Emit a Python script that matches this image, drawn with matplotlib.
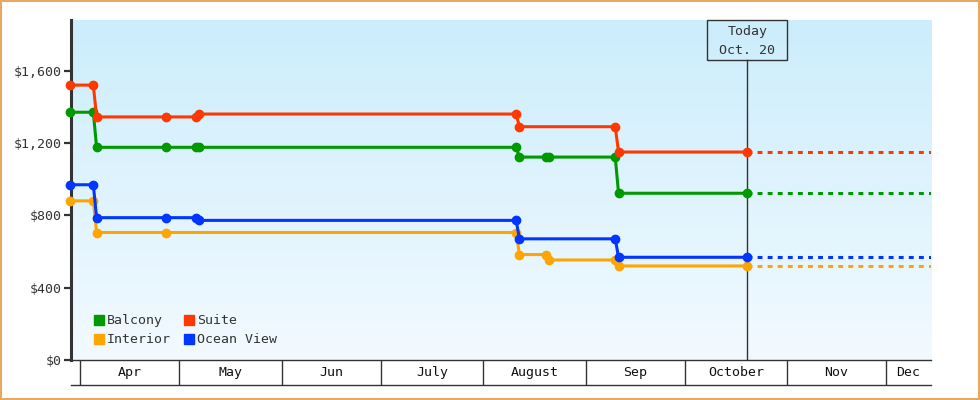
import numpy as np
import pandas as pd
import matplotlib
matplotlib.use("Agg")
import matplotlib.pyplot as plt
import matplotlib.dates as mdates
from matplotlib.lines import Line2D
from matplotlib.patches import Rectangle
from matplotlib.ticker import FuncFormatter

# price history per cabin type (date of each change point, price in $)
interior_dates = ['2023-03-29', '2023-04-05', '2023-04-06', '2023-04-27', '2023-08-11', '2023-08-12',
                  '2023-08-20', '2023-08-21', '2023-09-10', '2023-09-11', '2023-10-20']
interior = [880, 880, 705, 705, 705, 583, 583, 553, 553, 520, 520]

ocean_dates = ['2023-03-29', '2023-04-05', '2023-04-06', '2023-04-27', '2023-05-06', '2023-05-07',
               '2023-08-11', '2023-08-12', '2023-09-10', '2023-09-11', '2023-10-20']
ocean = [969, 969, 787, 787, 787, 772, 772, 670, 670, 568, 568]

balcony_dates = ['2023-03-29', '2023-04-05', '2023-04-06', '2023-04-27', '2023-05-06', '2023-05-07',
                 '2023-08-11', '2023-08-12', '2023-08-20', '2023-08-21', '2023-09-10', '2023-09-11',
                 '2023-10-20']
balcony = [1370, 1370, 1176, 1176, 1176, 1176, 1176, 1122, 1122, 1122, 1122, 922, 922]

suite_dates = ['2023-03-29', '2023-04-05', '2023-04-06', '2023-04-27', '2023-05-06', '2023-05-07',
               '2023-08-11', '2023-08-12', '2023-09-10', '2023-09-11', '2023-10-20']
suite = [1520, 1520, 1344, 1344, 1344, 1360, 1360, 1290, 1290, 1150, 1150]

today = pd.Timestamp('2023-10-20')
x_start = pd.Timestamp('2023-03-29 06:00')
x_end = pd.Timestamp('2023-12-14 14:00')

month_starts = ['2023-04-01', '2023-05-01', '2023-06-01', '2023-07-01', '2023-08-01',
                '2023-09-01', '2023-10-01', '2023-11-01', '2023-12-01', '2024-01-01']
month_labels = ['Apr', 'May', 'Jun', 'July', 'August', 'Sep', 'October', 'Nov', 'Dec']

y_ticks = [0, 400, 800, 1200, 1600]
y_max = 1880

series = [
    ('Interior', interior_dates, interior, '#ffa500'),
    ('Ocean View', ocean_dates, ocean, '#0036ff'),
    ('Balcony', balcony_dates, balcony, '#009900'),
    ('Suite', suite_dates, suite, '#ff3800'),
]

plt.rcParams['font.family'] = ['DejaVu Sans Mono']
FS = 9.5
DARK = '#333333'

fig = plt.figure(figsize=(9.8, 4), dpi=100)
fig.patch.set_facecolor('white')
fig.patches.append(Rectangle((0.001, 0.002), 0.998, 0.996, transform=fig.transFigure,
                             fill=False, ec='#e8a862', lw=1.5))

ax = fig.add_axes([71 / 980, 40 / 400, 860 / 980, 340 / 400])

# background gradient
grad = np.linspace(0, 1, 256).reshape(-1, 1)
top = np.array([0.80, 0.93, 0.99])
bot = np.array([0.95, 0.98, 1.00])
img = bot + (top - bot) * grad
ax.imshow(img[::-1].reshape(256, 1, 3), extent=[0, 1, 0, 1], transform=ax.transAxes,
          aspect='auto', zorder=0)

for i, (name, d, v, c) in enumerate(series):
    d = pd.to_datetime(d)
    ax.plot(d, v, color=c, lw=2.2, marker='o', ms=6, zorder=3 + i, clip_on=False,
            solid_capstyle='butt')
    ax.plot([d[-1], x_end], [v[-1], v[-1]], color=c, lw=2.2, dashes=(1.6, 1.7),
            zorder=3 + i, solid_capstyle='butt')

ax.set_xlim(x_start, x_end)
ax.set_ylim(0, y_max)
ax.set_autoscale_on(False)

ax.spines['top'].set_visible(False)
ax.spines['right'].set_visible(False)
ax.spines['left'].set_linewidth(2.2)
ax.spines['left'].set_color(DARK)
ax.spines['bottom'].set_linewidth(1)
ax.spines['bottom'].set_color(DARK)
ax.set_xticks([])
ax.set_yticks(y_ticks)
ax.yaxis.set_major_formatter(FuncFormatter(lambda v, p: '${:,.0f}'.format(v)))
ax.tick_params(axis='y', direction='out', length=5, width=1.6, color=DARK,
               labelsize=FS, labelcolor=DARK, pad=2)

# today marker
xnum = mdates.date2num
xf = (xnum(today) - xnum(x_start)) / (xnum(x_end) - xnum(x_start))
box_h = 40 / 340
ax.axvline(today, ymin=0, ymax=1 - box_h, color=DARK, lw=1, zorder=2)
ax.add_patch(Rectangle((xf - 40 / 860, 1 - box_h), 80 / 860, box_h, transform=ax.transAxes,
                       fill=False, ec=DARK, lw=1, clip_on=False, zorder=10))
ax.text(xf, 1 - 12 / 340, 'Today', transform=ax.transAxes, ha='center', va='center',
        fontsize=FS, color=DARK)
ax.text(xf, 1 - 30 / 340, today.strftime('%b. ') + str(today.day), transform=ax.transAxes,
        ha='center', va='center', fontsize=FS, color=DARK)

# legend
handles = {name: Line2D([], [], marker='s', ls='none', ms=7.5, color=c)
           for name, d, v, c in series}
order = ['Balcony', 'Interior', 'Suite', 'Ocean View']
ax.legend([handles[n] for n in order], order, loc='lower left', bbox_to_anchor=(0.026, 0.04),
          ncol=2, frameon=False, fontsize=FS, handlelength=0.8, handletextpad=0.2,
          columnspacing=1.0, labelspacing=0.45, borderpad=0, borderaxespad=0,
          labelcolor=DARK)

# month row under the chart
ax2 = fig.add_axes([71 / 980, 15 / 400, 860 / 980, 25 / 400])
ax2.set_xlim(x_start, x_end)
ax2.set_ylim(0, 1)
ax2.patch.set_alpha(0)
for s in ['top', 'left', 'right']:
    ax2.spines[s].set_visible(False)
ax2.spines['bottom'].set_color(DARK)
ax2.spines['bottom'].set_linewidth(1)
ax2.set_xticks([])
ax2.set_yticks([])
ms = pd.to_datetime(month_starts)
for i, lab in enumerate(month_labels):
    ax2.axvline(ms[i], color=DARK, lw=1)
    lo = max(xnum(ms[i]), xnum(x_start))
    hi = min(xnum(ms[i + 1]), xnum(x_end))
    ax2.text((lo + hi) / 2, 0.5, lab, ha='center', va='center', fontsize=FS, color='#111111')

fig.savefig('out.png', dpi=100)
